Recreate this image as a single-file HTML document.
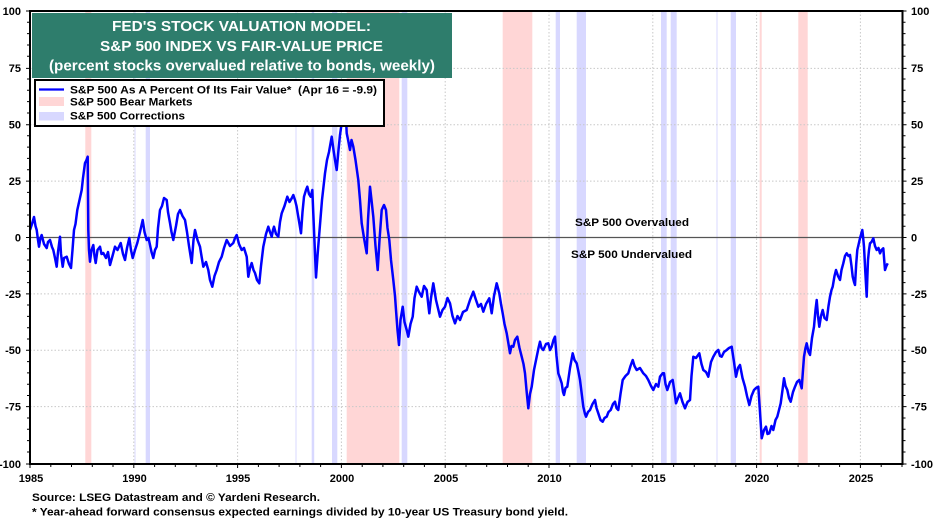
<!DOCTYPE html>
<html><head><meta charset="utf-8"><style>
html,body{margin:0;padding:0;background:#fff;}
svg{display:block;font-family:"Liberation Sans",Arial,sans-serif;font-weight:bold;}
</style></head><body>
<svg width="936" height="518" viewBox="0 0 936 518" xmlns="http://www.w3.org/2000/svg">
<rect width="936" height="518" fill="#fff"/>
<!-- bear markets -->
<g fill="#ffd6d6">
<rect x="85.3" y="11" width="6" height="453"/>
<rect x="346.7" y="11" width="52.6" height="453"/>
<rect x="502.7" y="11" width="29.6" height="453"/>
<rect x="759.7" y="11" width="2" height="453"/>
<rect x="798.3" y="11" width="9.4" height="453"/>
</g>
<!-- corrections -->
<g fill="#d8d8ff">
<rect x="145.7" y="11" width="4.3" height="453"/>
<rect x="311.7" y="11" width="2.5" height="453"/>
<rect x="332" y="11" width="5.3" height="453"/>
<rect x="401.7" y="11" width="5.6" height="453"/>
<rect x="555.7" y="11" width="4.3" height="453"/>
<rect x="576.7" y="11" width="9.3" height="453"/>
<rect x="661" y="11" width="5.7" height="453"/>
<rect x="670.7" y="11" width="6" height="453"/>
<rect x="730.7" y="11" width="5.3" height="453"/>
</g>
<g fill="#ececff">
<rect x="134" y="11" width="2" height="453"/>
<rect x="295" y="11" width="2" height="453"/>
<rect x="716" y="11" width="2" height="453"/>
</g>
<!-- grid -->
<g stroke="#c8c8c8" stroke-width="1" stroke-dasharray="1.5,2">
<line x1="30" y1="68.4" x2="902.5" y2="68.4"/>
<line x1="30" y1="124.7" x2="902.5" y2="124.7"/>
<line x1="30" y1="181.1" x2="902.5" y2="181.1"/>
<line x1="30" y1="293.9" x2="902.5" y2="293.9"/>
<line x1="30" y1="350.3" x2="902.5" y2="350.3"/>
<line x1="30" y1="406.6" x2="902.5" y2="406.6"/>
<line x1="133.8" y1="11" x2="133.8" y2="464"/>
<line x1="237.6" y1="11" x2="237.6" y2="464"/>
<line x1="341.4" y1="11" x2="341.4" y2="464"/>
<line x1="445.2" y1="11" x2="445.2" y2="464"/>
<line x1="549" y1="11" x2="549" y2="464"/>
<line x1="652.8" y1="11" x2="652.8" y2="464"/>
<line x1="756.6" y1="11" x2="756.6" y2="464"/>
<line x1="860.4" y1="11" x2="860.4" y2="464"/>
</g>
<line x1="30" y1="237.5" x2="902.5" y2="237.5" stroke="#555" stroke-width="1.2"/>
<!-- series -->
<path fill="none" stroke="#0000ff" stroke-width="2.5" stroke-linejoin="round" d="M30,230 L32,224 34,217 35.5,226 36.7,230 38,240 39,246.7 40.5,238 41.7,235 44,244 46.7,248 48,242 50,240 52,247 53.3,250 55,258 56.7,266.7 58,252 60,236.7 61,254 62.7,266.7 64,258 66.7,256.7 69,264 71,268 72.5,250 74,230 75.5,224 77.3,210 79.5,200 81.7,190 83,178 85,163 86.5,160 87.7,156.7 88.3,230 89,250 90,261.7 91.5,250 93.3,245 94.5,256 95.7,263 97.5,250 100,246.7 101.5,254 103.3,253 106,258 108,252 110,265 112.5,256 115,246.7 117.5,250 120.7,243 123,254 125,260 127,248 129.3,238 131,250 132.7,258 135,250 137.3,243 140,232 142.7,220 144.5,232 146.7,240 148.5,238 150,245 151.5,252 153.3,258 155,250 156.7,246.7 158,228 160,210 162,206 164,198 166.7,200 168,212 170,223 171.5,232 173.3,240 176,226 178,214 180,210 182.5,216 185,220 187,232 189,246 191.7,263 193.5,240 195,230 197.5,240 200,246.7 201.5,256 203.3,266.7 206,262 208.3,270 210,280 212.3,286.7 214.5,276 216.7,270 219,262 221.7,256.7 224,248 226.7,240 230,246 233.3,243 235,238 236.7,235 239,244 241.7,250 244,248 246.7,256.7 248.3,276.7 250,268 251.7,263 253.5,270 255,273 257,280 259.3,283.3 261,266 263.3,246.7 266,234 268.3,226.7 270,232 271.7,236.7 273,230 274,226.7 276,234 278.3,236.7 280,222 281.7,213.3 284.5,206 287.3,196.7 289.5,202 291.7,198.3 293.3,195 295,200 296.5,206 297.7,213.3 299.5,224 301,233.3 302.5,212 304,196.7 306,190 307.3,186.7 309,194 310.7,196.7 312.3,190 314,230 316,277.5 317.5,256 319.3,233.3 322,200 325,173.3 327,160 329,152 331.7,136.7 333.5,150 335,160 336.7,170 338.5,150 340,135 341.7,123 343,112 344,118 345.5,108 346.7,133.3 348.5,142 350,150 351.5,140 353.3,146.7 355.5,160 358.3,180 360,200 361.7,223.3 364,238 366.7,253.3 368,220 370,186.7 371.5,200 373.3,216.7 375.5,246 377.7,270 379.5,240 381.7,210 384,205 386,210 387.5,228 389.3,240 391,260 393.3,280 395,296 396,310 397.5,330 399,345 400.5,320 402.7,306.7 404.5,322 406.7,330 408.3,336.7 410.5,324 412.7,316.7 414.5,298 416.7,286.7 419,292 421.7,296.7 424,286 426.7,290 428,302 429.3,313.3 431,298 433.3,283.3 436,300 440,316.7 442.5,310 445,306.7 447.5,298 450,303.3 452.5,316 455,323.3 457.5,316 460,320 463,312 466.7,310 470,300 473.3,291.7 476,300 478.3,306.7 481,304 483.3,311.7 486,304 489.3,298.3 491.7,313.3 494,296 496.7,283.3 499.3,293.3 501,304 502.7,313.3 504.5,324 506.7,333.3 508.5,344 510,353.3 511.5,346 513.3,346.7 515,340 517.3,336.7 519.5,348 521.7,356.7 523.5,364 525,373.3 526.5,390 528.3,408.3 530,394 531.7,386.7 534,370 536.7,356.7 538.5,348 540,341.7 541.5,348 543.3,350 546,344 548.3,343.3 550,350 551.7,346.7 553.5,340 555,336.7 556.5,356 558.3,373.3 560,378 561.7,383.3 563,392 564,395 565.5,388 567.3,386.7 570,368 572.7,353.3 574.5,360 576.7,363.3 578.5,372 580,380 582,396 583.3,406.7 585,414 586,416.7 588,412 590,410 592.5,404 595,400 596.5,408 598.3,413.3 600.5,420 602.7,421.7 604.5,418 606.7,416.7 608.5,412 610.7,410 613,404 615,401.7 616.5,408 618.3,410 620.5,394 622.7,380 625.5,376 628.3,373.3 630.5,366 632.7,360 634.5,366 636.7,370 640,368 643.3,373.3 646,376 648.3,380 651,386 653.3,390 656,384 658.3,386.7 660,376.7 662.7,373.3 664,373.3 665.5,384 667.3,390 670,382 672.7,380 674.5,392 676,403.3 678,398 680,393.3 682.5,402 685,408.3 687.5,402 690,400 691.5,376 693.3,356.7 696,358 699.3,353.3 701.5,364 703.3,370 706,372 708.3,376.7 711,362 713.3,356.7 716,352 718.3,350 720,356 721.7,356.7 724,352 726.7,350 729,348 731.7,346.7 734,362 736,376.7 738,368 740,365 742.5,378 745,386.7 747,396 749.3,405 751.5,396 754,390 756,388 758.3,386.7 760,412 761.7,438.3 764,430 766,426.7 767.5,434 769.3,433.3 771.5,426 773.3,430 775.5,420 777.3,416.7 779,410 780.7,403.3 782.5,390 784,378.3 785.5,386 787.3,390 789,398 790.7,401.7 793,392 795,386.7 797,382 799.3,380 801.7,388.3 803,370 804,356.7 805.5,348 806.7,343.3 808.5,352 810,355 812,338 814,326.7 815.5,310 816.7,300 818,316 819.3,326.7 821,316 822.7,310 824.5,318 826.7,320 828.5,306 830,296.7 831.5,290 832.7,286.7 834.5,276 836,270 838,276 840,280 841.5,270 843.3,263.3 845,256 846.7,253.3 848.5,256 850,255 851.5,266 852.7,276.7 854,282 855,285 856.2,264 857.3,250 858.7,244 860,238.3 861.2,234 862.3,230 863.2,238 864,246.7 865.3,271.7 866.7,296.7 867.4,276 868,260 869,250 870,243.3 871.5,242 873.3,238.3 875,246 876.7,250 878.5,248 880,253.3 881.5,250 883.3,248.3 884.2,260 885,270 886.4,266 887.7,263.3"/>
<!-- axes frame -->
<rect x="30" y="11" width="872.5" height="453" fill="none" stroke="#000" stroke-width="2"/>
<!-- ticks -->
<g stroke="#000" stroke-width="1">
<path d="M26,11H30M27,22.3H30M27,33.6H30M27,45H30M27,56.3H30M26,68.4H30M27,79H30M27,90.3H30M27,101.6H30M27,113H30M26,124.7H30M27,135.8H30M27,147.1H30M27,158.4H30M27,169.8H30M26,181.1H30M27,192.4H30M27,203.7H30M27,215H30M27,226.2H30M26,237.5H30M27,248.8H30M27,260H30M27,271.4H30M27,282.6H30M26,293.9H30M27,305H30M27,316.4H30M27,327.7H30M27,339H30M26,350.3H30M27,361.6H30M27,372.9H30M27,384.2H30M27,395.5H30M26,406.6H30M27,418H30M27,429.3H30M27,440.6H30M27,452H30M26,464H30"/>
<path d="M902.5,11H906.5M902.5,22.3H905.5M902.5,33.6H905.5M902.5,45H905.5M902.5,56.3H905.5M902.5,68.4H906.5M902.5,79H905.5M902.5,90.3H905.5M902.5,101.6H905.5M902.5,113H905.5M902.5,124.7H906.5M902.5,135.8H905.5M902.5,147.1H905.5M902.5,158.4H905.5M902.5,169.8H905.5M902.5,181.1H906.5M902.5,192.4H905.5M902.5,203.7H905.5M902.5,215H905.5M902.5,226.2H905.5M902.5,237.5H906.5M902.5,248.8H905.5M902.5,260H905.5M902.5,271.4H905.5M902.5,282.6H905.5M902.5,293.9H906.5M902.5,305H905.5M902.5,316.4H905.5M902.5,327.7H905.5M902.5,339H905.5M902.5,350.3H906.5M902.5,361.6H905.5M902.5,372.9H905.5M902.5,384.2H905.5M902.5,395.5H905.5M902.5,406.6H906.5M902.5,418H905.5M902.5,429.3H905.5M902.5,440.6H905.5M902.5,452H905.5M902.5,464H906.5"/>
<path d="M30,464V468M50.8,464V467M71.5,464V467M92.3,464V467M113,464V467M133.8,464V468M154.6,464V467M175.3,464V467M196.1,464V467M216.8,464V467M237.6,464V468M258.4,464V467M279.1,464V467M299.9,464V467M320.6,464V467M341.4,464V468M362.2,464V467M382.9,464V467M403.7,464V467M424.4,464V467M445.2,464V468M466,464V467M486.7,464V467M507.5,464V467M528.2,464V467M549,464V468M569.8,464V467M590.5,464V467M611.3,464V467M632,464V467M652.8,464V468M673.6,464V467M694.3,464V467M715.1,464V467M735.8,464V467M756.6,464V468M777.4,464V467M798.1,464V467M818.9,464V467M839.6,464V467M860.4,464V468M881.2,464V467M902,464V467"/>
</g>
<!-- left labels -->
<g font-size="11" text-anchor="end" fill="#000">
<text x="21" y="15">100</text>
<text x="21" y="72">75</text>
<text x="21" y="128.5">50</text>
<text x="21" y="185">25</text>
<text x="21" y="241.5">0</text>
<text x="21" y="298">-25</text>
<text x="21" y="354">-50</text>
<text x="21" y="410.5">-75</text>
<text x="21" y="468">-100</text>
</g>
<g font-size="11" text-anchor="start" fill="#000">
<text x="911" y="15">100</text>
<text x="911" y="72">75</text>
<text x="911" y="128.5">50</text>
<text x="911" y="185">25</text>
<text x="911" y="241.5">0</text>
<text x="911" y="298">-25</text>
<text x="911" y="354">-50</text>
<text x="911" y="410.5">-75</text>
<text x="911" y="468">-100</text>
</g>
<g font-size="11" text-anchor="middle" fill="#000">
<text x="31" y="482">1985</text>
<text x="134.5" y="482">1990</text>
<text x="238" y="482">1995</text>
<text x="342" y="482">2000</text>
<text x="446" y="482">2005</text>
<text x="549.5" y="482">2010</text>
<text x="653.5" y="482">2015</text>
<text x="757" y="482">2020</text>
<text x="861" y="482">2025</text>
</g>
<!-- annotations -->
<text x="575" y="226" font-size="11" textLength="114" lengthAdjust="spacingAndGlyphs">S&amp;P 500 Overvalued</text>
<text x="571" y="258" font-size="11" textLength="121" lengthAdjust="spacingAndGlyphs">S&amp;P 500 Undervalued</text>
<!-- legend -->
<rect x="35" y="80" width="349" height="46" fill="#fff" stroke="#000" stroke-width="2"/>
<line x1="39" y1="89.5" x2="64" y2="89.5" stroke="#0000ff" stroke-width="2.3"/>
<rect x="39" y="97" width="25" height="9" fill="#ffd6d6"/>
<rect x="39" y="112" width="25" height="8.5" fill="#d8d8ff"/>
<g font-size="11" fill="#000">
<text x="70" y="93.5" textLength="307" lengthAdjust="spacingAndGlyphs" xml:space="preserve">S&amp;P 500 As A Percent Of Its Fair Value*  (Apr 16 = -9.9)</text>
<text x="70" y="105.5" textLength="122.5" lengthAdjust="spacingAndGlyphs">S&amp;P 500 Bear Markets</text>
<text x="70" y="119.5" textLength="115" lengthAdjust="spacingAndGlyphs">S&amp;P 500 Corrections</text>
</g>
<!-- title box -->
<rect x="32" y="13" width="420" height="65" fill="#2e7d6c"/>
<g fill="#fff" font-size="14.5" text-anchor="middle">
<text x="241.5" y="31" textLength="259" lengthAdjust="spacingAndGlyphs">FED'S STOCK VALUATION MODEL:</text>
<text x="241.5" y="51" textLength="283" lengthAdjust="spacingAndGlyphs">S&amp;P 500 INDEX VS FAIR-VALUE PRICE</text>
<text x="242" y="70.5" textLength="386" lengthAdjust="spacingAndGlyphs">(percent stocks overvalued relative to bonds, weekly)</text>
</g>
<!-- footer -->
<g font-size="11" fill="#000">
<text x="32" y="501" textLength="288" lengthAdjust="spacingAndGlyphs">Source: LSEG Datastream and © Yardeni Research.</text>
<text x="32" y="515.5" textLength="536" lengthAdjust="spacingAndGlyphs">* Year-ahead forward consensus expected earnings divided by 10-year US Treasury bond yield.</text>
</g>
</svg>
</body></html>
